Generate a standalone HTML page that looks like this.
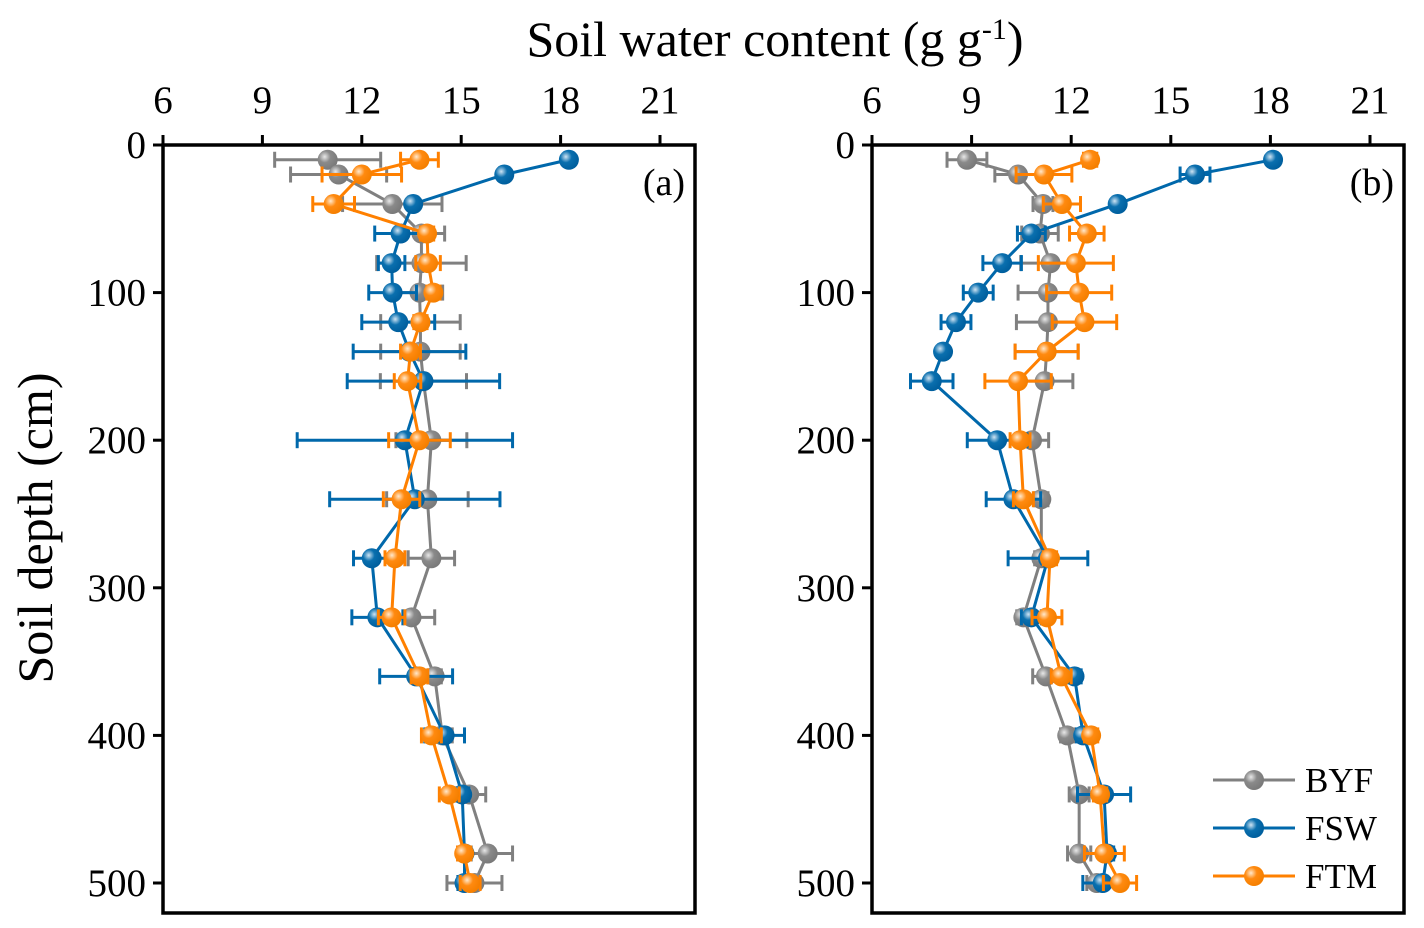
<!DOCTYPE html>
<html><head><meta charset="utf-8">
<style>
html,body{margin:0;padding:0;background:#fff;}
svg{display:block;font-family:"Liberation Serif",serif;}
</style></head>
<body>
<svg id="chart" width="1424" height="928" viewBox="0 0 1424 928">
<defs>
<radialGradient id="gBYF" cx="0.35" cy="0.35" r="0.65"><stop offset="0" stop-color="#e8e8e8"/><stop offset="0.45" stop-color="#8a8a8a"/><stop offset="1" stop-color="#7a7a7a"/></radialGradient>
<radialGradient id="gFSW" cx="0.35" cy="0.35" r="0.65"><stop offset="0" stop-color="#cfe4f3"/><stop offset="0.45" stop-color="#0a6fae"/><stop offset="1" stop-color="#005f9e"/></radialGradient>
<radialGradient id="gFTM" cx="0.35" cy="0.35" r="0.65"><stop offset="0" stop-color="#ffe8cc"/><stop offset="0.45" stop-color="#ff8a10"/><stop offset="1" stop-color="#f57f00"/></radialGradient>
</defs>
<text x="775" y="56" font-size="50" text-anchor="middle">Soil water content (g g<tspan dy="-17" font-size="30">-1</tspan><tspan dy="17">)</tspan></text>
<text transform="translate(52,528) rotate(-90)" font-size="50" text-anchor="middle">Soil depth (cm)</text>
</svg>
<script>
const depths=[10,20,40,60,80,100,120,140,160,200,240,280,320,360,400,440,480,500];
const xTicks=[6,9,12,15,18,21];
const yTicks=[0,100,200,300,400,500];
const seriesNames=["BYF","FSW","FTM"];
const colors={BYF:"#808080",FSW:"#0068ab",FTM:"#ff8000"};
// Panel (a)
const aBYF=[10.97,11.3,12.92,13.8,13.8,13.74,13.77,13.77,13.86,14.1,13.98,14.1,13.5,14.2,14.43,15.24,15.8,15.4];
const aBYFerr=[1.6,1.45,1.5,0.7,1.35,0.7,1.2,1.2,1.3,1.07,1.23,0.7,0.7,0.2,0.3,0.5,0.75,0.83];
const aFSW=[18.25,16.3,13.55,13.17,12.9,12.93,13.1,13.44,13.86,13.3,13.6,12.3,12.47,13.64,14.5,15.03,15.1,15.1];
const aFSWerr=[0.1,0.1,0.1,0.78,0.4,0.72,1.1,1.7,2.3,3.25,2.57,0.55,0.77,1.1,0.6,0.2,0.2,0.2];
const aFTM=[13.74,12.0,11.15,13.97,14.0,14.16,13.77,13.47,13.38,13.74,13.2,13.0,12.9,13.74,14.1,14.64,15.09,15.27];
const aFTMerr=[0.57,1.2,0.63,0.2,0.37,0.2,0.2,0.3,0.4,0.93,0.55,0.3,0.4,0.25,0.3,0.3,0.2,0.3];
// Panel (b)
const bBYF=[8.86,10.4,11.15,11.06,11.38,11.3,11.3,11.26,11.2,10.82,11.1,11.1,10.56,11.24,11.88,12.24,12.24,12.77];
const bBYFerr=[0.6,0.7,0.3,0.55,0.9,0.9,0.95,0.95,0.85,0.5,0.2,0.2,0.2,0.4,0.2,0.3,0.35,0.3];
const bFSW=[18.08,15.73,13.4,10.8,9.92,9.2,8.53,8.14,7.8,9.77,10.26,11.3,10.8,12.1,12.36,12.99,13.08,12.95];
const bFSWerr=[0.05,0.45,0.1,0.42,0.58,0.45,0.45,0.1,0.64,0.9,0.82,1.2,0.3,0.2,0.2,0.8,0.2,0.6];
const bFTM=[12.57,11.18,11.72,12.47,12.14,12.24,12.4,11.26,10.4,10.46,10.56,11.36,11.27,11.7,12.6,12.87,13.0,13.47];
const bFTMerr=[0.2,0.84,0.56,0.52,1.13,0.98,0.97,0.95,1.0,0.3,0.3,0.2,0.45,0.3,0.2,0.2,0.6,0.5];

const NS="http://www.w3.org/2000/svg";
const svg=document.getElementById("chart");
function mk(tag,attrs,parent){const e=document.createElementNS(NS,tag);for(const k in attrs)e.setAttribute(k,attrs[k]);(parent||svg).appendChild(e);return e;}

const panels=[
 {id:"a",left:163,right:695,label:"(a)",data:{BYF:[aBYF,aBYFerr],FSW:[aFSW,aFSWerr],FTM:[aFTM,aFTMerr]}},
 {id:"b",left:872,right:1404,label:"(b)",data:{BYF:[bBYF,bBYFerr],FSW:[bFSW,bFSWerr],FTM:[bFTM,bFTMerr]}}
];
const plotTop=145,plotBottom=913;
const yScale=d=>plotTop+d*(883-145)/500;

panels.forEach(p=>{
 const xScale=v=>p.left+(v-6)*(p.id==="a"?(660-163)/15:(1370-872)/15);
 const g=mk("g",{});
 
 
 xTicks.forEach(t=>{
  const x=xScale(t);
  mk("line",{x1:x,x2:x,y1:plotTop-10,y2:plotTop,stroke:"#000","stroke-width":3},g);
  const tx=mk("text",{x:x,y:113,"font-size":39,"text-anchor":"middle"},g);
  tx.textContent=t;
  
  
 });
 yTicks.forEach(t=>{
  const y=yScale(t);
  mk("line",{x1:p.left-10,x2:p.left,y1:y,y2:y,stroke:"#000","stroke-width":3},g);
  const tx=mk("text",{x:p.left-17,y:y+13,"font-size":39,"text-anchor":"end"},g);
  tx.textContent=t;
  
  
 });
 const lab=mk("text",{x:p.right-10,y:195,"font-size":38,"text-anchor":"end"},g);
 lab.textContent=p.label;
 
 
 seriesNames.forEach(s=>{
  const vals=p.data[s][0],errs=p.data[s][1];
  const sg=mk("g",{},g);
  
  
  const pts=vals.map((v,i)=>xScale(v)+","+yScale(depths[i])).join(" ");
  mk("polyline",{points:pts,fill:"none",stroke:colors[s],"stroke-width":3},sg);
  vals.forEach((v,i)=>{
   const y=yScale(depths[i]),x1=xScale(v-errs[i]),x2=xScale(v+errs[i]);
   mk("line",{x1:x1,x2:x2,y1:y,y2:y,stroke:colors[s],"stroke-width":3},sg);
   mk("line",{x1:x1,x2:x1,y1:y-8,y2:y+8,stroke:colors[s],"stroke-width":3},sg);
   mk("line",{x1:x2,x2:x2,y1:y-8,y2:y+8,stroke:colors[s],"stroke-width":3},sg);
  });
  vals.forEach((v,i)=>{
   const c=mk("circle",{cx:xScale(v),cy:yScale(depths[i]),r:10,fill:"url(#g"+s+")"},sg);
   
   
  });
 });
 const fr=mk("rect",{x:p.left,y:plotTop,width:p.right-p.left,height:plotBottom-plotTop,fill:"none",stroke:"#000","stroke-width":3.5},g);
 
 
});

// legend
const lg=mk("g",{});


seriesNames.forEach((s,i)=>{
 const y=780+i*48;
 const eg=mk("g",{},lg);
 
 
 mk("line",{x1:1213,x2:1295,y1:y,y2:y,stroke:colors[s],"stroke-width":3},eg);
 mk("circle",{cx:1254,cy:y,r:10,fill:"url(#g"+s+")"},eg);
 const t=mk("text",{x:1305,y:y+12,"font-size":35},eg);
 t.textContent=s;
});
</script>
</body></html>
